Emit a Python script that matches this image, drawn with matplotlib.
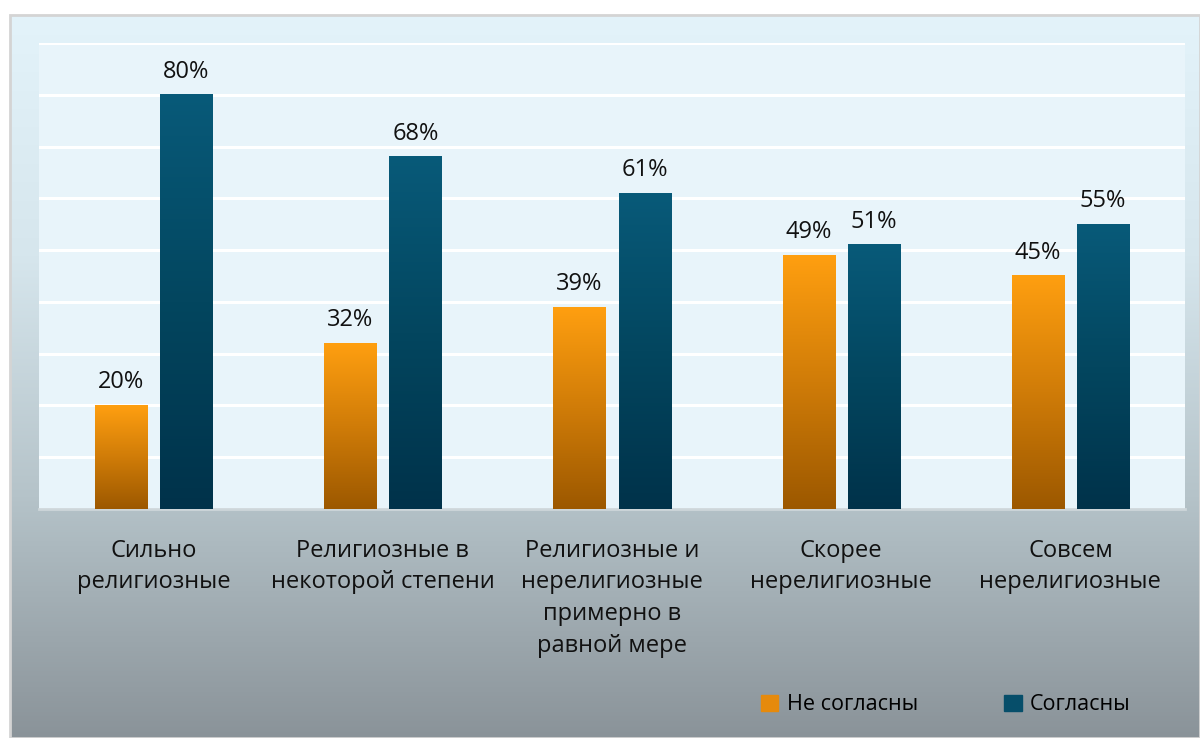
import numpy as np
import matplotlib
matplotlib.use("Agg")
import matplotlib.pyplot as plt
from matplotlib.colors import LinearSegmentedColormap
from matplotlib.patches import Rectangle

plt.rcParams['font.family'] = ['Open Sans', 'DejaVu Sans']

categories = ["Сильно\nрелигиозные", "Религиозные в\nнекоторой степени",
              "Религиозные и\nнерелигиозные\nпримерно в\nравной мере",
              "Скорее\nнерелигиозные", "Совсем\nнерелигиозные"]
disagree = [0.20, 0.32, 0.39, 0.49, 0.45]
agree = [0.80, 0.68, 0.61, 0.51, 0.55]
series_names = ["Не согласны", "Согласны"]

W, H = 1200, 738
fig = plt.figure(figsize=(W / 100, H / 100), dpi=100)
fig.patch.set_facecolor('white')

# chart area background gradient
bg = fig.add_axes([10 / W, 0, 1 - 10 / W, 1 - 15 / H], zorder=-1)
bg_cmap = LinearSegmentedColormap.from_list('bg', ['#e3f3fa', '#d6e6ed', '#b5c3c9', '#8a9399'])
bg.imshow(np.linspace(0, 1, 256).reshape(-1, 1), cmap=bg_cmap, aspect='auto',
          extent=[0, 1, 0, 1], origin='upper')
bg.set_xlim(0, 1)
bg.set_ylim(0, 1)
bg.axis('off')
fig.add_artist(Rectangle((10 / W, 0), 1 - 10 / W, 1 - 15 / H, transform=fig.transFigure,
                         fill=False, edgecolor='#d4d4d4', linewidth=2, zorder=5))

ax = fig.add_axes([39 / W, 1 - 509 / H, (1185 - 39) / W, (509 - 43) / H])
ax.set_facecolor('#e8f4fa')

x = np.arange(len(categories))
w = 0.227
off = 0.142
cm_or = LinearSegmentedColormap.from_list('or', ['#9c5800', '#d07c08', '#ff9f10'])
cm_bl = LinearSegmentedColormap.from_list('bl', ['#00324a', '#03465f', '#085a79'])

bars1 = ax.bar(x - off, disagree, w, color='none', zorder=3)
bars2 = ax.bar(x + off, agree, w, color='none', zorder=3)
grad = np.linspace(0, 1, 256).reshape(-1, 1)
for bars, cm in [(bars1, cm_or), (bars2, cm_bl)]:
    for b in bars:
        bx, bw, bh = b.get_x(), b.get_width(), b.get_height()
        ax.imshow(grad, cmap=cm, aspect='auto', origin='lower',
                  extent=[bx, bx + bw, 0, bh], zorder=3)
        ax.annotate(f"{bh * 100:.0f}%", (bx + bw / 2, bh), xytext=(0, 8),
                    textcoords='offset points', ha='center', va='bottom',
                    fontsize=17, color='#111111')

ax.set_xlim(-0.5, len(categories) - 0.5)
ax.set_ylim(0, 0.9)
ax.set_yticks(np.arange(0, 0.91, 0.1))
ax.yaxis.grid(True, color='white', linewidth=2.2, zorder=0)
ax.set_axisbelow(True)
ax.tick_params(axis='y', left=False, labelleft=False)
ax.tick_params(axis='x', bottom=False, pad=18)
ax.set_xticks(x)
ax.set_xticklabels(categories, fontsize=17, color='#111111', linespacing=1.42, va='top')
for s in ['top', 'left', 'right']:
    ax.spines[s].set_visible(False)
ax.spines['bottom'].set_color('#cdd6da')
ax.spines['bottom'].set_linewidth(2)

handles = [Rectangle((0, 0), 1, 1, color='#e68a0c'), Rectangle((0, 0), 1, 1, color='#064e6a')]
fig.legend(handles, series_names, loc='center', bbox_to_anchor=(946 / W, 1 - 705 / H),
           ncol=2, frameon=False, fontsize=15.5, handlelength=0.8, handleheight=0.8,
           columnspacing=4.0, handletextpad=0.4)

fig.savefig('out.png', dpi=100)
